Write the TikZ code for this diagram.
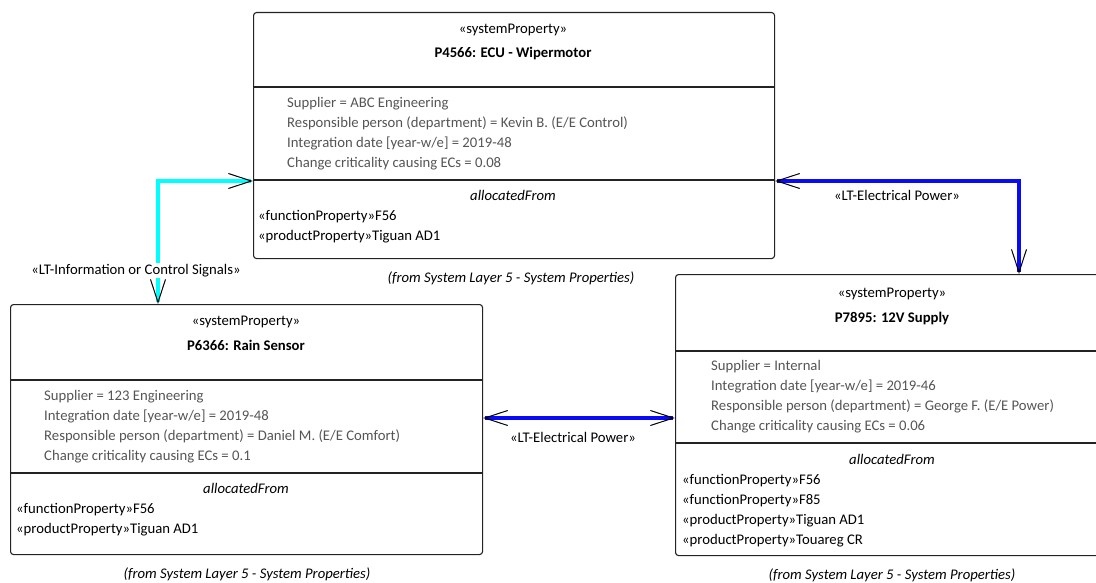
\documentclass[tikz,border=0pt]{standalone}
\usepackage{fontspec}
\setmainfont{Carlito}
\usetikzlibrary{arrows.meta,calc}

\definecolor{frame}{RGB}{35,35,35}
\definecolor{attr}{RGB}{85,85,85}
\definecolor{sigcyan}{RGB}{0,255,255}
\definecolor{pwrblue}{RGB}{10,10,245}

\tikzset{
  classbox/.style={draw=frame, line width=1.1pt, rounded corners=3pt, fill=white,
                   anchor=north west, inner sep=0pt},
  sepline/.style={draw=frame, line width=1.1pt},
  lbl/.style={font=\fontsize{14.7}{17}\selectfont, inner sep=0pt},
  stereo/.style={lbl, anchor=mid},
  title/.style={lbl, anchor=mid, font=\fontsize{14.7}{17}\selectfont\bfseries},
  attrtxt/.style={lbl, anchor=mid west, text=attr},
  itemtxt/.style={lbl, anchor=mid west},
  comptitle/.style={lbl, anchor=mid, font=\fontsize{14.7}{17}\selectfont\itshape},
  caption/.style={lbl, anchor=mid, font=\fontsize{14.7}{17}\selectfont\itshape},
  barb/.tip={Straight Barb[length=23pt, width=15pt, line width=1pt, color=black]},
  link/.style={line width=4pt, barb-barb},
  sig/.style={link, draw=sigcyan},
  pwr/.style={link, draw=pwrblue},
  linklbl/.style={lbl, anchor=mid, fill=white, inner sep=1.5pt},
}

\begin{document}
\begin{tikzpicture}[x=1pt, y=-1pt]
  \useasboundingbox (0,0) rectangle (1096,583);
  \clip (0,0) rectangle (1096,583);

  % ---- P4566: ECU - Wipermotor ----
  \node[classbox, minimum width=521pt, minimum height=246pt] (ecu) at (253,12) {};
  \draw[sepline] (ecu.west |- 0,87) -- (ecu.east |- 0,87);
  \draw[sepline] (ecu.west |- 0,180) -- (ecu.east |- 0,180);
  \node[stereo] (ecuS) at (513,31) {«systemProperty»};
  \node[title]  (ecuT) at (513,55) {P4566: ECU - Wipermotor};
  \node[attrtxt] (ecuA1) at (287,105) {Supplier = ABC Engineering};
  \node[attrtxt] (ecuA2) at (287,125) {Responsible person (department) = Kevin B. (E/E Control)};
  \node[attrtxt] (ecuA3) at (287,145) {Integration date [year-w/e] = 2019-48};
  \node[attrtxt] (ecuA4) at (287,165) {Change criticality causing ECs = 0.08};
  \node[comptitle] (ecuC) at (513,198) {allocatedFrom};
  \node[itemtxt] (ecuI1) at (258,218) {«functionProperty»F56};
  \node[itemtxt] (ecuI2) at (258,238) {«productProperty»Tiguan AD1};
  \node[caption] (ecuF) at (511,280) {(from System Layer 5 - System Properties)};

  % ---- P6366: Rain Sensor ----
  \node[classbox, minimum width=472pt, minimum height=250pt] (rain) at (10,304) {};
  \draw[sepline] (rain.west |- 0,380) -- (rain.east |- 0,380);
  \draw[sepline] (rain.west |- 0,473) -- (rain.east |- 0,473);
  \node[stereo] (rainS) at (246,323) {«systemProperty»};
  \node[title]  (rainT) at (246,348) {P6366: Rain Sensor};
  \node[attrtxt] (rainA1) at (44,398) {Supplier = 123 Engineering};
  \node[attrtxt] (rainA2) at (44,418) {Integration date [year-w/e] = 2019-48};
  \node[attrtxt] (rainA3) at (44,438) {Responsible person (department) = Daniel M. (E/E Comfort)};
  \node[attrtxt] (rainA4) at (44,458) {Change criticality causing ECs = 0.1};
  \node[comptitle] (rainC) at (246,491) {allocatedFrom};
  \node[itemtxt] (rainI1) at (16,511) {«functionProperty»F56};
  \node[itemtxt] (rainI2) at (16,531) {«productProperty»Tiguan AD1};
  \node[caption] (rainF) at (247,576) {(from System Layer 5 - System Properties)};

  % ---- P7895: 12V Supply ----
  \node[classbox, minimum width=434pt, minimum height=281pt] (pwr) at (675,274) {};
  \draw[sepline] (pwr.west |- 0,351) -- (pwr.east |- 0,351);
  \draw[sepline] (pwr.west |- 0,443) -- (pwr.east |- 0,443);
  \node[stereo] (pwrS) at (892,295) {«systemProperty»};
  \node[title]  (pwrT) at (892,320) {P7895: 12V Supply};
  \node[attrtxt] (pwrA1) at (711,368) {Supplier = Internal};
  \node[attrtxt] (pwrA2) at (711,388) {Integration date [year-w/e] = 2019-46};
  \node[attrtxt] (pwrA3) at (711,408) {Responsible person (department) = George F. (E/E Power)};
  \node[attrtxt] (pwrA4) at (711,428) {Change criticality causing ECs = 0.06};
  \node[comptitle] (pwrC) at (892,462) {allocatedFrom};
  \node[itemtxt] (pwrI1) at (682,482) {«functionProperty»F56};
  \node[itemtxt] (pwrI2) at (682,502) {«functionProperty»F85};
  \node[itemtxt] (pwrI3) at (682,522) {«productProperty»Tiguan AD1};
  \node[itemtxt] (pwrI4) at (682,542) {«productProperty»Touareg CR};
  \node[caption] (pwrF) at (892,577) {(from System Layer 5 - System Properties)};

  % ---- connectors ----
  \draw[sig] (ecu.west |- 0,181) -| (rain.north -| 158,0);
  \node[linklbl] (sigL) at (136,272) {«LT-Information or Control Signals»};

  \draw[pwr] (ecu.east |- 0,181) -| (pwr.north -| 1019,0);
  \node[lbl, anchor=mid] (pwrL1) at (897,198) {«LT-Electrical Power»};

  \draw[pwr] (rain.east |- 0,418) -- (pwr.west |- 0,418);
  \node[lbl, anchor=mid] (pwrL2) at (573,440) {«LT-Electrical Power»};
\end{tikzpicture}
\end{document}
